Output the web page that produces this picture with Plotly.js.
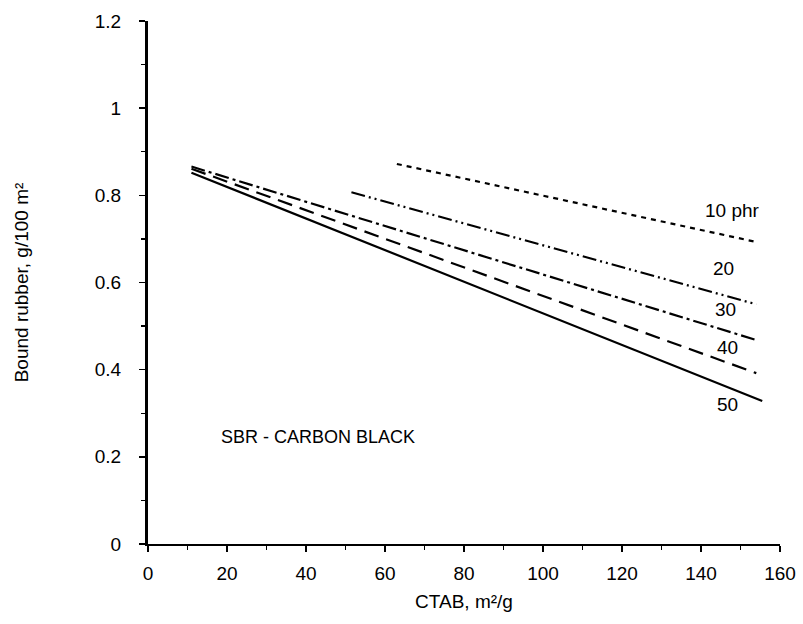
<!DOCTYPE html>
<html>
<head>
<meta charset="utf-8">
<script src="https://cdn.plot.ly/plotly-3.0.1.min.js"></script>
<style>html,body{margin:0;padding:0;background:#fff;}#chart{width:803px;height:624px;}</style>
</head>
<body>
<div id="chart"></div>
<script>
// CTAB (m²/g) start/end of each line and bound rubber (g/100 m²)
var seriesNames = ["10 phr", "20", "30", "40", "50"];
var ctab10 = [63, 154], br10 = [0.872, 0.693];
var ctab20 = [51.5, 154], br20 = [0.807, 0.550];
var ctab30 = [11, 154], br30 = [0.866, 0.468];
var ctab40 = [11, 154], br40 = [0.861, 0.392];
var ctab50 = [11, 155.5], br50 = [0.852, 0.328];
var labelX = [148, 145.6, 146.3, 146.8, 146.8];
var labelY = [0.766, 0.633, 0.537, 0.452, 0.319];
var noteText = "SBR - CARBON BLACK";
var xTicks = [0, 20, 40, 60, 80, 100, 120, 140, 160];
var yTicks = [0, 0.2, 0.4, 0.6, 0.8, 1, 1.2];

var dashes = ["5px,5px", "14px,4px,2px,4px,2px,4px", "14px,4px,3px,4px", "15px,8px", "solid"];
var xs = [ctab10, ctab20, ctab30, ctab40, ctab50];
var ys = [br10, br20, br30, br40, br50];
var traces = xs.map(function (x, i) {
  return {x: x, y: ys[i], mode: "lines", name: seriesNames[i], type: "scatter",
    line: {color: "#000", width: 2.2, dash: dashes[i]}, hoverinfo: "skip"};
});
var font = {family: "Liberation Sans, Arial, sans-serif", size: 19, color: "#000"};
var noteFont = {family: "Liberation Sans, Arial, sans-serif", size: 18, color: "#000"};
var annotations = seriesNames.map(function (t, i) {
  return {x: labelX[i], y: labelY[i], text: t, showarrow: false, xref: "x", yref: "y",
    font: font, xanchor: "center", yanchor: "middle"};
});
annotations.push({x: 18, y: 0.245, text: noteText, showarrow: false, xref: "x", yref: "y",
  font: noteFont, xanchor: "left", yanchor: "middle"});

var layout = {
  width: 803, height: 624,
  margin: {l: 148, r: 23, t: 21, b: 80},
  paper_bgcolor: "#fff", plot_bgcolor: "#fff",
  showlegend: false,
  font: font,
  xaxis: {range: [0, 160], tickvals: xTicks, ticktext: xTicks.map(String), showgrid: false, zeroline: false,
    showline: true, linecolor: "#000", linewidth: 2, ticks: "outside", ticklen: 6, tickwidth: 1.5, tickcolor: "#000",
    ticklabelstandoff: 5,
    minor: {dtick: 10, ticks: "outside", ticklen: 4, tickwidth: 1.2, tickcolor: "#000", showgrid: false},
    title: {text: "CTAB, m²/g", font: font, standoff: 12}, tickfont: font},
  yaxis: {range: [0, 1.2], tickvals: yTicks, ticktext: yTicks.map(String), showgrid: false, zeroline: false,
    showline: true, linecolor: "#000", linewidth: 3, ticks: "outside", ticklen: 6, tickwidth: 1.5, tickcolor: "#000",
    ticklabelstandoff: 14,
    minor: {dtick: 0.1, ticks: "outside", ticklen: 4, tickwidth: 1.2, tickcolor: "#000", showgrid: false},
    title: {text: "Bound rubber, g/100 m²", font: font, standoff: 62}, tickfont: font},
  annotations: annotations
};
Plotly.newPlot("chart", traces, layout, {staticPlot: true, displayModeBar: false});
</script>
</body>
</html>
